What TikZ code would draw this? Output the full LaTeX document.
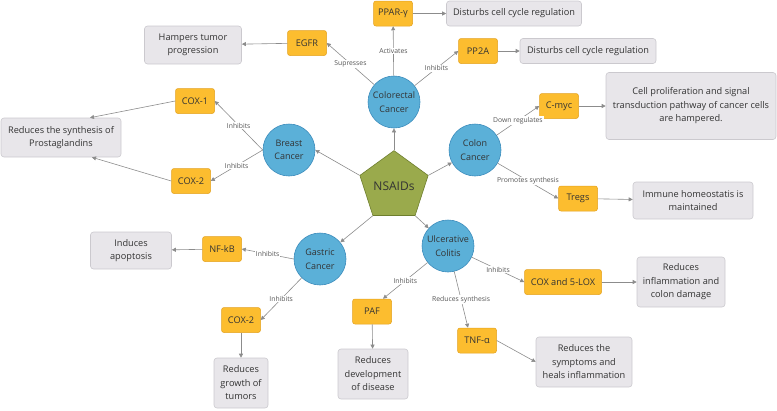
\documentclass[tikz,border=0pt]{standalone}
\usepackage{fontspec}
\setmainfont{Open Sans}
\usetikzlibrary{shapes.geometric,arrows.meta,calc}
\definecolor{orf}{HTML}{FCBD2F}
\definecolor{orb}{HTML}{E3A11E}
\definecolor{blf}{HTML}{5BB0D8}
\definecolor{blb}{HTML}{3C8CBC}
\definecolor{grf}{HTML}{E8E6EA}
\definecolor{grb}{HTML}{CBC9CE}
\definecolor{gnf}{HTML}{9AAA4C}
\definecolor{gnb}{HTML}{6E7E2E}
\definecolor{edg}{HTML}{8C8C8C}
\definecolor{txt}{HTML}{333333}
\definecolor{lbc}{HTML}{555555}
\tikzset{
  circ/.style={circle, draw=blb, fill=blf, line width=0.6pt, minimum size=52pt, inner sep=0pt, align=center, text=txt, font=\fontsize{9}{13.5}\selectfont},
  obox/.style={rectangle, rounded corners=2.5pt, draw=orb, fill=orf, line width=0.5pt, minimum height=25pt, minimum width=39pt, inner sep=2pt, text=txt, font=\fontsize{9.2}{12}\selectfont},
  gbox/.style={rectangle, rounded corners=3pt, draw=grb, fill=grf, line width=0.6pt, align=center, inner sep=0pt, text=txt, font=\fontsize{9.2}{13.5}\selectfont},
  pent/.style={regular polygon, regular polygon sides=5, minimum size=61pt, inner sep=0pt, draw=gnb, fill=gnf, line width=0.6pt, text=txt, font=\fontsize{12}{14}\selectfont},
  arr/.style={draw=edg, line width=0.6pt, -{Triangle[length=4pt,width=4pt]}},
  lbl/.style={fill=white, inner sep=0.8pt, text=lbc, font=\fontsize{6.8}{8}\selectfont}
}
\begin{document}
\begin{tikzpicture}[x=1pt,y=-1pt]
\useasboundingbox (0,0) rectangle (777,410);
% hub
\node[pent] (ns) at (394,186.5) {NSAIDs};
% circles
\node[circ] (crc) at (394,102) {Colorectal\\Cancer};
\node[circ] (bc) at (289,150) {Breast\\Cancer};
\node[circ] (cc) at (475,150) {Colon\\Cancer};
\node[circ] (gc) at (320,259) {Gastric\\Cancer};
\node[circ] (uc) at (448,246) {Ulcerative\\Colitis};
% orange
\node[obox] (ppar) at (393,13.5) {PPAR-γ};
\node[obox] (egfr) at (307,43) {EGFR};
\node[obox] (pp2a) at (478,51) {PP2A};
\node[obox] (cox1) at (195,101) {COX-1};
\node[obox] (cox2b) at (191,181) {COX-2};
\node[obox] (cmyc) at (559,106) {C-myc};
\node[obox] (tregs) at (578,198.5) {Tregs};
\node[obox] (nfkb) at (222,249) {NF-kB};
\node[obox] (cox2g) at (241,320) {COX-2};
\node[obox] (paf) at (372,311.5) {PAF};
\node[obox] (tnf) at (477,340.5) {TNF-α};
\node[obox, minimum width=77pt] (cox5) at (563,282) {COX and 5-LOX};
% gray
\node[gbox, minimum width=135pt, minimum height=25pt] (g1) at (514,13.5) {Disturbs cell cycle regulation};
\node[gbox, minimum width=136pt, minimum height=25pt] (g2) at (588,51) {Disturbs cell cycle regulation};
\node[gbox, minimum width=97pt, minimum height=38pt] (g3) at (193,45) {Hampers tumor\\progression};
\node[gbox, minimum width=120pt, minimum height=39pt] (g4) at (61,137.5) {Reduces the synthesis of\\Prostaglandins};
\node[gbox, minimum width=170pt, minimum height=67pt] (g5) at (691,106) {Cell proliferation and signal\\transduction pathway of cancer cells\\are hampered.};
\node[gbox, minimum width=120pt, minimum height=37pt] (g6) at (693,200.5) {Immune homeostatis is\\maintained};
\node[gbox, minimum width=81pt, minimum height=37pt] (g7) at (131,250.5) {Induces\\apoptosis};
\node[gbox, minimum width=54pt, minimum height=50pt] (g8) at (241,383) {Reduces\\growth of\\tumors};
\node[gbox, minimum width=70pt, minimum height=50pt] (g9) at (373,374) {Reduces\\development\\of disease};
\node[gbox, minimum width=96pt, minimum height=50pt] (g10) at (584,362) {Reduces the\\symptoms and\\heals inflammation};
\node[gbox, minimum width=88pt, minimum height=50pt] (g11) at (681,282) {Reduces\\inflammation and\\colon damage};
% hub edges
\draw[arr] (ns.corner 1) -- (crc);
\draw[arr] (ns.corner 2) -- (bc.east);
\draw[arr] (ns.corner 5) -- (cc);
\draw[arr] (ns.corner 3) -- (gc);
\draw[arr] (ns.corner 4) -- (uc);
% colorectal
\draw[arr] (crc) -- node[lbl]{Activates} (ppar);
\draw[arr] (crc) -- node[lbl]{Supresses} (egfr.east);
\draw[arr] (crc) -- node[lbl]{Inhibits} (pp2a.west);
\draw[arr] (ppar) -- (g1);
\draw[arr] (pp2a) -- (g2);
\draw[arr] (egfr) -- (g3);
% breast
\draw[arr] (bc.west) -- node[lbl]{Inhibits} (cox1.east);
\draw[arr] (bc.west) -- node[lbl]{Inhibits} (cox2b.east);
\draw[arr] (cox1.west) -- ($(g4.north)+(29,0)$);
\draw[arr] (cox2b.west) -- ($(g4.south)+(31,0)$);
% colon
\draw[arr] (cc) -- node[lbl]{Down regulates} (cmyc.west);
\draw[arr] (cc) -- node[lbl]{Promotes synthesis} (tregs.west);
\draw[arr] (cmyc) -- (g5);
\draw[arr] (tregs) -- (g6);
% gastric
\draw[arr] (gc.west) -- node[lbl]{Inhibits} (nfkb.east);
\draw[arr] (gc) -- node[lbl]{Inhibits} (cox2g.east);
\draw[arr] (nfkb) -- (g7);
\draw[arr] (cox2g) -- (g8);
% ulcerative colitis
\draw[arr] (uc) -- node[lbl]{Inhibits} ($(paf.north)+(11,0)$);
\draw[arr] (uc) -- node[lbl]{Reduces synthesis} ($(tnf.north)+(-9,0)$);
\draw[arr] (uc) -- node[lbl]{Inhibits} (cox5.west);
\draw[arr] (paf) -- (g9);
\draw[arr] (tnf.east) -- (g10.west);
\draw[arr] (cox5) -- (g11);
\end{tikzpicture}
\end{document}
